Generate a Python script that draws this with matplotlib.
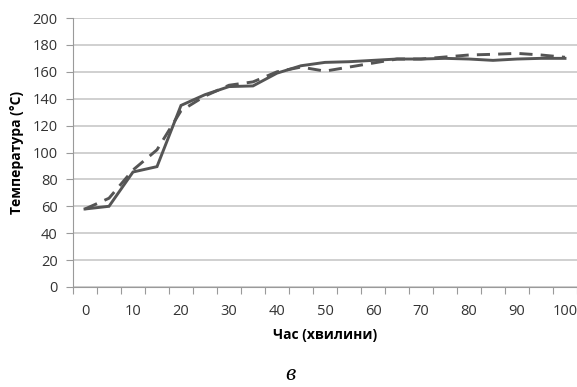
import matplotlib
matplotlib.use("Agg")
import matplotlib.pyplot as plt

# time points (minutes), shown as categories like the original Excel chart
minutes = [0, 5, 10, 15, 20, 25, 30, 35, 40, 45, 50, 55, 60, 65, 70, 75, 80, 85, 90, 95, 100]
temp_solid = [58, 60, 85.5, 89.5, 135, 143, 149, 149.5, 159, 164.5, 167, 167.5, 168.5, 169.5, 169.5, 170, 169.5, 168.5, 169.5, 170, 170]
temp_dashed = [58, 66, 87, 102, 131, 142, 150, 152.5, 160, 163.5, 160.5, 163.5, 166.5, 169.5, 169.5, 171, 172.5, 173, 173.7, 172.5, 170.8]

plt.rcParams['font.family'] = ['Open Sans', 'DejaVu Sans']

fig = plt.figure(figsize=(5.77, 3.87), dpi=100)
ax = fig.add_axes([73 / 577, 1 - 287 / 387, 504 / 577, 269 / 387])

pos = list(range(len(minutes)))
ax.plot(pos, temp_solid, color='#555555', lw=2.1, solid_joinstyle='miter')
ax.plot(pos, temp_dashed, color='#555555', lw=2.1, dashes=(4.5, 2.8))

ax.set_xlim(-0.5, len(minutes) - 0.5)
ax.set_ylim(0, 200)
ax.set_yticks(range(0, 201, 20))
ax.set_xticks([p - 0.5 for p in pos] + [len(minutes) - 0.5])
ax.set_xticklabels([])
ax.set_xticks(pos[::2], minor=True)
ax.set_xticklabels([str(m) for m in minutes[::2]], minor=True)
ax.tick_params(axis='x', which='major', length=5, width=0.8, color='#9a9a9a', direction='out')
ax.tick_params(axis='x', which='minor', length=0, pad=12, labelsize=10.5, labelcolor='#333333')
ax.tick_params(axis='y', length=5, width=0.8, color='#9a9a9a', pad=6, labelsize=10.5, labelcolor='#333333')

ax.grid(axis='y', color='#c8c8c8', lw=1.2)
ax.set_axisbelow(True)
for s in ['top', 'right']:
    ax.spines[s].set_visible(False)
for s in ['left', 'bottom']:
    ax.spines[s].set_color('#9a9a9a')
    ax.spines[s].set_linewidth(0.8)

ax.set_xlabel('Час (хвилини)', fontsize=10, fontweight='bold', labelpad=7)
ax.set_ylabel('Температура (°C)', fontsize=10, fontweight='bold', labelpad=6)

fig.text(290 / 577, 1 - 374 / 387, 'в', fontsize=17, style='italic',
         family='Liberation Serif', ha='center', va='center')

fig.savefig('out.png', dpi=100)
